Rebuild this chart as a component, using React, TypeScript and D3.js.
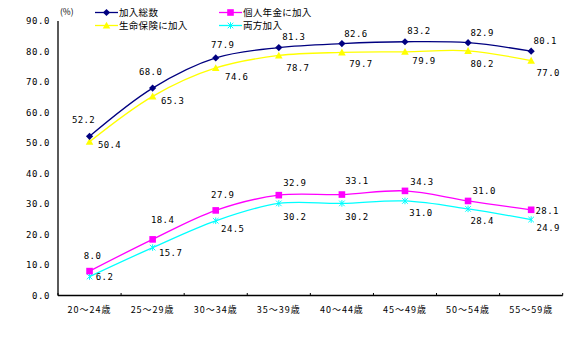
import React from "react";
import * as d3 from "d3";

const categories = ["20～24歳", "25～29歳", "30～34歳", "35～39歳", "40～44歳", "45～49歳", "50～54歳", "55～59歳"];
const seriesNames = ["加入総数", "個人年金に加入", "生命保険に加入", "両方加入"];
const totalValues = [52.2, 68.0, 77.9, 81.3, 82.6, 83.2, 82.9, 80.1];
const pensionValues = [8.0, 18.4, 27.9, 32.9, 33.1, 34.3, 31.0, 28.1];
const lifeValues = [50.4, 65.3, 74.6, 78.7, 79.7, 79.9, 80.2, 77.0];
const bothValues = [6.2, 15.7, 24.5, 30.2, 30.2, 31.0, 28.4, 24.9];
const yTicks = [0, 10, 20, 30, 40, 50, 60, 70, 80, 90];

const W = 583;
const H = 352;
const left = 58;
const right = 562.7;
const top = 21;
const bottom = 295.5;

const NUM_FONT = "'DejaVu Sans Mono', 'Liberation Mono', monospace";
const JP_FONT = "'Noto Sans CJK JP', sans-serif";

type Shape = "diamond" | "square" | "triangle" | "star";

// label placement offsets (relative to point) per series
const labelOffsets: [number, number][][] = [
  [[-6, -16], [-2, -16], [7, -13], [15, -11], [14, -10], [14, -11], [14, -10], [14, -10]],
  [[3, -15], [10, -20], [7, -16], [16, -12], [15, -14], [17, -9], [16, -10], [16, 1]],
  [[20, 3], [20, 5], [21, 9], [19, 12], [19, 11], [19, 9], [14, 13], [17, 12]],
  [[15, 0], [18, 5], [17, 8], [16, 13], [15, 13], [16, 12], [14, 12], [17, 8]],
];

function Marker({ shape, x, y, color }: { shape: Shape; x: number; y: number; color: string }) {
  if (shape === "diamond") {
    const s = 3.6;
    return <path d={`M${x},${y - s}L${x + s},${y}L${x},${y + s}L${x - s},${y}Z`} fill={color} />;
  }
  if (shape === "square") {
    return <rect x={x - 3.3} y={y - 3.3} width={6.6} height={6.6} fill={color} />;
  }
  if (shape === "triangle") {
    const s = 3.8;
    return <path d={`M${x},${y - s}L${x + s},${y + s * 0.8}L${x - s},${y + s * 0.8}Z`} fill={color} />;
  }
  const s = 2.8;
  return (
    <g stroke={color} strokeWidth={1}>
      <line x1={x - s} y1={y - s} x2={x + s} y2={y + s} />
      <line x1={x - s} y1={y + s} x2={x + s} y2={y - s} />
      <line x1={x} y1={y - s - 0.5} x2={x} y2={y + s + 0.5} />
    </g>
  );
}

export default function App() {
  const x = d3.scaleBand<string>().domain(categories).range([left, right]);
  const y = d3.scaleLinear().domain([0, 90]).range([bottom, top]);
  const cx = (c: string) => (x(c) as number) + x.bandwidth() / 2;

  const series = [
    { name: seriesNames[0], values: totalValues, color: "#000080", shape: "diamond" as Shape },
    { name: seriesNames[1], values: pensionValues, color: "#FF00FF", shape: "square" as Shape },
    { name: seriesNames[2], values: lifeValues, color: "#FFFF00", shape: "triangle" as Shape },
    { name: seriesNames[3], values: bothValues, color: "#00FFFF", shape: "star" as Shape },
  ];
  const drawOrder = [2, 0, 3, 1];

  const line = d3
    .line<number>()
    .x((_, i) => cx(categories[i]))
    .y((v) => y(v))
    .curve(d3.curveCatmullRom.alpha(0.5));

  const legendPos = [
    { lx: 95, ty: 12.5 },
    { lx: 219, ty: 12.5 },
    { lx: 95, ty: 25.5 },
    { lx: 219, ty: 25.5 },
  ];

  const boundaries = [...categories.map((c) => x(c) as number), right];

  return (
    <div style={{ position: "absolute", left: 0, top: 0 }}>
      <svg width={W} height={H} style={{ display: "block", background: "#fff" }}>
        {/* axes */}
        <line x1={left} y1={top} x2={left} y2={bottom} stroke="#000" strokeWidth={1.3} />
        <line x1={left} y1={bottom} x2={right} y2={bottom} stroke="#000" strokeWidth={1.3} />
        {boundaries.map((b, i) => (
          <line key={i} x1={b} y1={bottom} x2={b} y2={bottom - 2.5} stroke="#000" strokeWidth={1} />
        ))}
        {yTicks.map((t) => (
          <text
            key={t}
            x={50}
            y={y(t)}
            dy="0.35em"
            textAnchor="end"
            fontFamily={NUM_FONT}
            fontSize={9}
            letterSpacing={0.6}
            fill="#000"
          >
            {t.toFixed(1)}
          </text>
        ))}
        {categories.map((c) => (
          <text
            key={c}
            x={cx(c)}
            y={310}
            dy="0.35em"
            textAnchor="middle"
            fontFamily={JP_FONT}
            fontSize={9}
            letterSpacing={1}
            fill="#000"
          >
            {c}
          </text>
        ))}
        <text x={60} y={12.5} dy="0.35em" fontFamily={JP_FONT} fontSize={8.5} fill="#000">
          (%)
        </text>

        {/* series */}
        {drawOrder.map((si) => {
          const s = series[si];
          return (
            <g key={s.name}>
              <path d={line(s.values) || ""} fill="none" stroke={s.color} strokeWidth={1.3} />
              {s.values.map((v, i) => (
                <Marker key={i} shape={s.shape} x={cx(categories[i])} y={y(v)} color={s.color} />
              ))}
            </g>
          );
        })}
        {series.map((s, si) =>
          s.values.map((v, i) => {
            const [dx, dy] = labelOffsets[si][i];
            return (
              <text
                key={`${si}-${i}`}
                x={cx(categories[i]) + dx}
                y={y(v) + dy}
                dy="0.35em"
                textAnchor="middle"
                fontFamily={NUM_FONT}
                fontSize={9}
                letterSpacing={0.4}
                fill="#000"
              >
                {v.toFixed(1)}
              </text>
            );
          })
        )}

        {/* legend */}
        {series.map((s, si) => {
          const p = legendPos[si];
          return (
            <g key={s.name}>
              <line x1={p.lx} y1={p.ty} x2={p.lx + 23} y2={p.ty} stroke={s.color} strokeWidth={1.3} />
              <Marker shape={s.shape} x={p.lx + 11.5} y={p.ty} color={s.color} />
              <text
                x={p.lx + 24}
                y={p.ty}
                dy="0.35em"
                fontFamily={JP_FONT}
                fontSize={9.5}
                letterSpacing={0.3}
                fill="#000"
              >
                {s.name}
              </text>
            </g>
          );
        })}
      </svg>
    </div>
  );
}
